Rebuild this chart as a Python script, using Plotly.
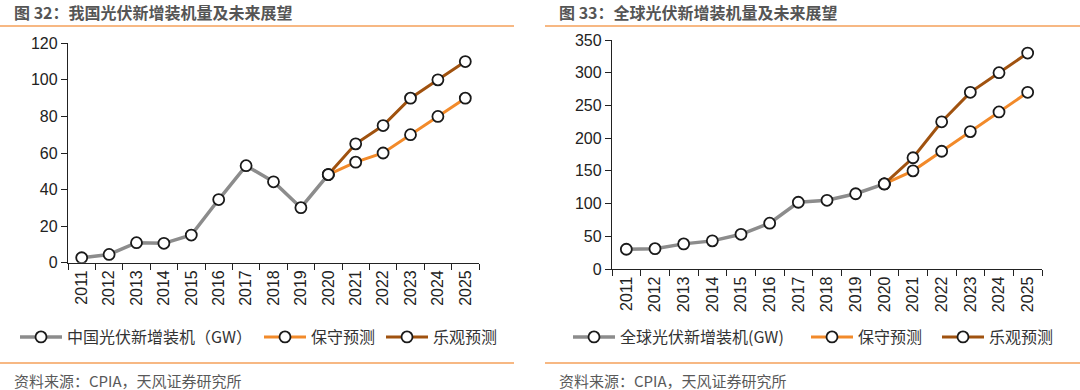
import plotly.graph_objects as go

years = [str(y) for y in range(2011, 2026)]
hist_years = years[:10]
fc_years = years[9:]

cn_hist = [2.7, 4.5, 10.95, 10.6, 15.13, 34.54, 53.06, 44.26, 30.11, 48.2]
cn_cons = [48.2, 55, 60, 70, 80, 90]
cn_opt = [48.2, 65, 75, 90, 100, 110]

gl_hist = [30.2, 31.1, 38.4, 43, 53, 70, 102, 105, 115, 130]
gl_cons = [130, 150, 180, 210, 240, 270]
gl_opt = [130, 170, 225, 270, 300, 330]

title_l = "图 32：我国光伏新增装机量及未来展望"
title_r = "图 33：全球光伏新增装机量及未来展望"
names_l = ["中国光伏新增装机（GW）", "保守预测", "乐观预测"]
names_r = ["全球光伏新增装机(GW)", "保守预测", "乐观预测"]
source = "资料来源：CPIA，天风证券研究所"

GREY = "#8c8c8c"
ORANGE = "#f28a2a"
BROWN = "#a0520f"
ACCENT = "#f5a05a"
W, H = 1080, 390

fig = go.Figure()

def add_series(xs, ys, name, color, width, xa, ya, legend):
    fig.add_trace(go.Scatter(
        x=xs, y=ys, name=name, mode="lines+markers", xaxis=xa, yaxis=ya,
        legend=legend,
        line=dict(color=color, width=width),
        marker=dict(symbol="circle", size=11, color="white",
                    line=dict(color="#1a1a1a", width=1.8)),
    ))

add_series(hist_years, cn_hist, names_l[0], GREY, 3.5, "x", "y", "legend")
add_series(fc_years, cn_cons, names_l[1], ORANGE, 3, "x", "y", "legend2")
add_series(fc_years, cn_opt, names_l[2], BROWN, 3, "x", "y", "legend3")
add_series(hist_years, gl_hist, names_r[0], GREY, 3.5, "x2", "y2", "legend4")
add_series(fc_years, gl_cons, names_r[1], ORANGE, 3, "x2", "y2", "legend5")
add_series(fc_years, gl_opt, names_r[2], BROWN, 3, "x2", "y2", "legend6")

tickfont = dict(family="Liberation Sans, Arial", size=16, color="#222222")

def xaxis(domain, anchor):
    return dict(domain=domain, anchor=anchor, type="category",
                categoryorder="array", categoryarray=years,
                range=[-0.5, 14.5], tickson="boundaries",
                ticks="outside", ticklen=6, tickcolor="#222", tickwidth=1.3,
                showline=True, linecolor="#222", linewidth=1.3,
                showgrid=False, zeroline=False, tickangle=-90,
                tickfont=tickfont, fixedrange=True, automargin=False)

def yaxis(domain, anchor, rng, dtick):
    return dict(domain=domain, anchor=anchor, range=rng, dtick=dtick,
                ticks="outside", ticklen=6, tickcolor="#222", tickwidth=1.3,
                showline=True, linecolor="#222", linewidth=1.3,
                showgrid=False, zeroline=False, tickfont=tickfont,
                fixedrange=True, automargin=False)

def py(px):
    return (H - px) / H

legend_font = dict(family="Noto Sans CJK SC", size=16, color="#333333")

def leg(circle_x):
    return dict(orientation="h", x=(circle_x - 25) / W, y=py(337),
                xanchor="left", yanchor="middle", font=legend_font,
                bgcolor="rgba(0,0,0,0)", itemwidth=42)

fig.update_layout(
    template="none",
    width=W, height=H,
    margin=dict(l=0, r=0, t=0, b=0, autoexpand=False),
    paper_bgcolor="white", plot_bgcolor="white",
    xaxis=xaxis([68 / W, 479 / W], "y"),
    yaxis=yaxis([py(262.7), py(43.3)], "x", [0, 120], 20),
    xaxis2=xaxis([612 / W, 1042 / W], "y2"),
    yaxis2=yaxis([py(269), py(40)], "x2", [0, 350], 50),
    legend=leg(40), legend2=leg(284), legend3=leg(406),
    legend4=leg(593), legend5=leg(831), legend6=leg(962),
    showlegend=True,
)

title_font = dict(family="Noto Sans CJK SC", size=16, color="#555555", weight="bold")
src_font = dict(family="Noto Sans CJK SC", size=15, color="#595959")

fig.add_annotation(text=title_l, x=12 / W, y=py(12), xref="paper", yref="paper",
                   xanchor="left", yanchor="middle", showarrow=False, font=title_font)
fig.add_annotation(text=title_r, x=557 / W, y=py(12), xref="paper", yref="paper",
                   xanchor="left", yanchor="middle", showarrow=False, font=title_font)
fig.add_annotation(text=source, x=12 / W, y=py(380), xref="paper", yref="paper",
                   xanchor="left", yanchor="middle", showarrow=False, font=src_font)
fig.add_annotation(text=source, x=557 / W, y=py(380), xref="paper", yref="paper",
                   xanchor="left", yanchor="middle", showarrow=False, font=src_font)

for (x0, x1) in [(0, 514), (545, 1080)]:
    for yy in (26, 363):
        fig.add_shape(type="line", xref="paper", yref="paper",
                      x0=x0 / W, x1=x1 / W, y0=py(yy), y1=py(yy),
                      line=dict(color=ACCENT, width=1.3))

fig.write_html(
    "out.html",
    config={"displayModeBar": False},
    post_script="document.body.style.margin='0';document.body.style.overflow='hidden';",
)
